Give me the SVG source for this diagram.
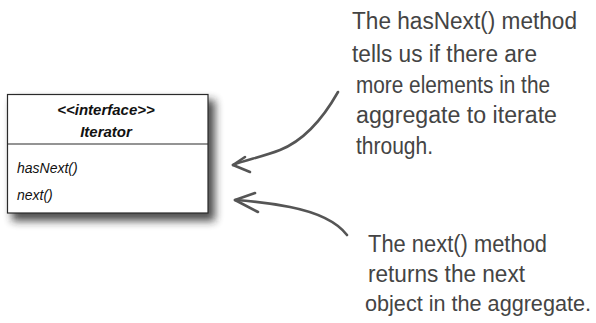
<svg xmlns="http://www.w3.org/2000/svg" width="596" height="323" viewBox="0 0 596 323">
<style>
.uml{font-family:"Liberation Sans",Arial,sans-serif;font-style:italic;fill:#111}
.hd{font-weight:bold;font-size:15px}
.op{font-size:14px}
.note{font-family:"Liberation Sans",Arial,sans-serif;font-size:23px;fill:#444}
.conn{fill:none;stroke:#555;stroke-width:2.6;stroke-linecap:round;stroke-linejoin:round}
</style>
<defs>
<filter id="sh" x="-20%" y="-20%" width="150%" height="150%">
<feGaussianBlur stdDeviation="4"/>
</filter>
</defs>
<rect width="596" height="323" fill="#fff"/>
<g id="iterator">
<rect x="12" y="100" width="203" height="121" fill="#222" opacity="0.8" filter="url(#sh)"/>
<rect x="7.5" y="94.5" width="200.5" height="118.5" fill="#fff" stroke="#2a2a2a" stroke-width="1.2"/>
<line x1="7.5" y1="144" x2="208" y2="144" stroke="#2a2a2a" stroke-width="1.2"/>
<text class="uml hd" x="106" y="115" text-anchor="middle">&lt;&lt;interface&gt;&gt;</text>
<text class="uml hd" x="106" y="137" text-anchor="middle">Iterator</text>
<text class="uml op" x="17" y="173">hasNext()</text>
<text class="uml op" x="17" y="200">next()</text>
</g>
<g id="note-hasnext">
<text class="note" x="352" y="29" textLength="225" lengthAdjust="spacingAndGlyphs">The hasNext()  method</text>
<text class="note" x="352" y="62" textLength="185" lengthAdjust="spacingAndGlyphs">tells us if there are</text>
<text class="note" x="356" y="93" textLength="194" lengthAdjust="spacingAndGlyphs">more elements in the</text>
<text class="note" x="356" y="123" textLength="201" lengthAdjust="spacingAndGlyphs">aggregate to iterate</text>
<text class="note" x="356" y="154" textLength="77" lengthAdjust="spacingAndGlyphs">through.</text>
</g>
<g id="note-next">
<text class="note" x="368" y="252" textLength="179" lengthAdjust="spacingAndGlyphs">The next() method</text>
<text class="note" x="368" y="282" textLength="157" lengthAdjust="spacingAndGlyphs">returns the next</text>
<text class="note" x="365" y="311" style="font-size:21.5px" textLength="226" lengthAdjust="spacingAndGlyphs">object in the aggregate.</text>
</g>
<g id="connectors">
<path class="conn" d="M338,92 C325,115 305,140 280,150 C262,157 245,160 233,165"/>
<path class="conn" d="M245,157 L233,165 L250,172"/>
<path class="conn" d="M347,235 C337,222 320,213 290,207 C270,203 250,201 235,200"/>
<path class="conn" d="M255,193 L235,200 L258,212"/>
</g>
</svg>
